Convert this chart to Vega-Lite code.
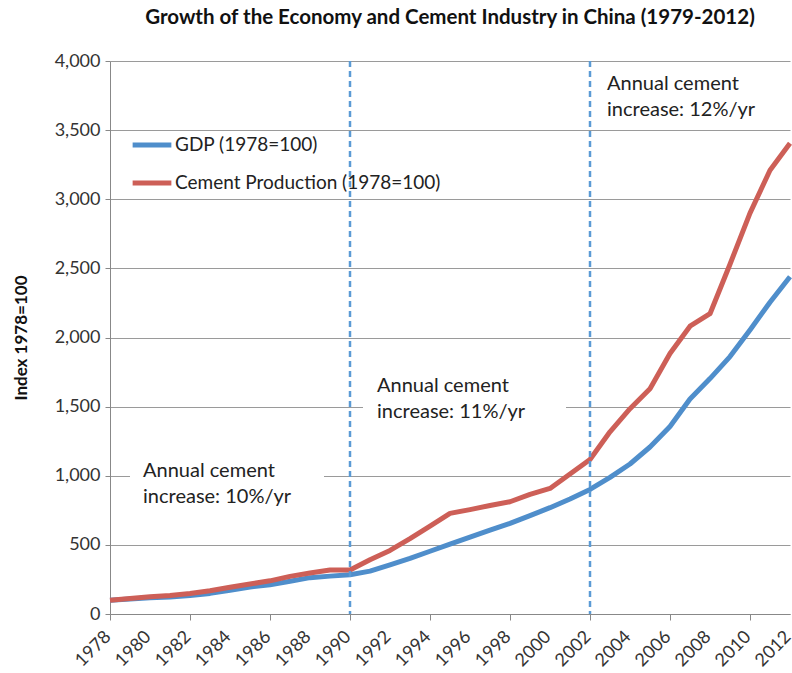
{
  "$schema": "https://vega.github.io/schema/vega-lite/v6.json",
  "autosize": {"type": "none"},
  "padding": {"left": 110, "top": 61, "right": 2, "bottom": 59},
  "width": 680,
  "height": 553,
  "background": "white",
  "title": {
    "text": "Growth of the Economy and Cement Industry in China (1979-2012)",
    "font": "Lato",
    "fontSize": 20.5,
    "fontWeight": "bold",
    "color": "#111111",
    "anchor": "middle",
    "offset": 24
  },
  "config": {
    "view": {"stroke": null},
    "axis": {
      "labelFont": "Lato",
      "labelColor": "#333333",
      "titleFont": "Lato",
      "domainColor": "#888888",
      "tickColor": "#888888",
      "gridColor": "#9a9a9a",
      "gridWidth": 1
    },
    "axisY": {"labelFontSize": 18}
  },
  "datasets": {
    "series": [
      {"year": 1978, "series": "GDP (1978=100)", "value": 100},
      {"year": 1979, "series": "GDP (1978=100)", "value": 108},
      {"year": 1980, "series": "GDP (1978=100)", "value": 117},
      {"year": 1981, "series": "GDP (1978=100)", "value": 123},
      {"year": 1982, "series": "GDP (1978=100)", "value": 134},
      {"year": 1983, "series": "GDP (1978=100)", "value": 149},
      {"year": 1984, "series": "GDP (1978=100)", "value": 171},
      {"year": 1985, "series": "GDP (1978=100)", "value": 195},
      {"year": 1986, "series": "GDP (1978=100)", "value": 212},
      {"year": 1987, "series": "GDP (1978=100)", "value": 237},
      {"year": 1988, "series": "GDP (1978=100)", "value": 263},
      {"year": 1989, "series": "GDP (1978=100)", "value": 274},
      {"year": 1990, "series": "GDP (1978=100)", "value": 284},
      {"year": 1991, "series": "GDP (1978=100)", "value": 310},
      {"year": 1992, "series": "GDP (1978=100)", "value": 355},
      {"year": 1993, "series": "GDP (1978=100)", "value": 402},
      {"year": 1994, "series": "GDP (1978=100)", "value": 454},
      {"year": 1995, "series": "GDP (1978=100)", "value": 505},
      {"year": 1996, "series": "GDP (1978=100)", "value": 556},
      {"year": 1997, "series": "GDP (1978=100)", "value": 606},
      {"year": 1998, "series": "GDP (1978=100)", "value": 656},
      {"year": 1999, "series": "GDP (1978=100)", "value": 712},
      {"year": 2000, "series": "GDP (1978=100)", "value": 769},
      {"year": 2001, "series": "GDP (1978=100)", "value": 832},
      {"year": 2002, "series": "GDP (1978=100)", "value": 901},
      {"year": 2003, "series": "GDP (1978=100)", "value": 988},
      {"year": 2004, "series": "GDP (1978=100)", "value": 1085},
      {"year": 2005, "series": "GDP (1978=100)", "value": 1208},
      {"year": 2006, "series": "GDP (1978=100)", "value": 1356},
      {"year": 2007, "series": "GDP (1978=100)", "value": 1555},
      {"year": 2008, "series": "GDP (1978=100)", "value": 1703},
      {"year": 2009, "series": "GDP (1978=100)", "value": 1862},
      {"year": 2010, "series": "GDP (1978=100)", "value": 2055},
      {"year": 2011, "series": "GDP (1978=100)", "value": 2255},
      {"year": 2012, "series": "GDP (1978=100)", "value": 2440},
      {"year": 1978, "series": "Cement Production (1978=100)", "value": 100},
      {"year": 1979, "series": "Cement Production (1978=100)", "value": 112},
      {"year": 1980, "series": "Cement Production (1978=100)", "value": 125},
      {"year": 1981, "series": "Cement Production (1978=100)", "value": 134},
      {"year": 1982, "series": "Cement Production (1978=100)", "value": 148},
      {"year": 1983, "series": "Cement Production (1978=100)", "value": 168},
      {"year": 1984, "series": "Cement Production (1978=100)", "value": 193},
      {"year": 1985, "series": "Cement Production (1978=100)", "value": 217},
      {"year": 1986, "series": "Cement Production (1978=100)", "value": 240},
      {"year": 1987, "series": "Cement Production (1978=100)", "value": 272},
      {"year": 1988, "series": "Cement Production (1978=100)", "value": 296},
      {"year": 1989, "series": "Cement Production (1978=100)", "value": 318},
      {"year": 1990, "series": "Cement Production (1978=100)", "value": 318},
      {"year": 1991, "series": "Cement Production (1978=100)", "value": 392},
      {"year": 1992, "series": "Cement Production (1978=100)", "value": 460},
      {"year": 1993, "series": "Cement Production (1978=100)", "value": 545},
      {"year": 1994, "series": "Cement Production (1978=100)", "value": 635},
      {"year": 1995, "series": "Cement Production (1978=100)", "value": 728},
      {"year": 1996, "series": "Cement Production (1978=100)", "value": 755},
      {"year": 1997, "series": "Cement Production (1978=100)", "value": 785},
      {"year": 1998, "series": "Cement Production (1978=100)", "value": 812},
      {"year": 1999, "series": "Cement Production (1978=100)", "value": 865},
      {"year": 2000, "series": "Cement Production (1978=100)", "value": 908},
      {"year": 2001, "series": "Cement Production (1978=100)", "value": 1013},
      {"year": 2002, "series": "Cement Production (1978=100)", "value": 1118},
      {"year": 2003, "series": "Cement Production (1978=100)", "value": 1318},
      {"year": 2004, "series": "Cement Production (1978=100)", "value": 1485},
      {"year": 2005, "series": "Cement Production (1978=100)", "value": 1630},
      {"year": 2006, "series": "Cement Production (1978=100)", "value": 1885},
      {"year": 2007, "series": "Cement Production (1978=100)", "value": 2082},
      {"year": 2008, "series": "Cement Production (1978=100)", "value": 2172},
      {"year": 2009, "series": "Cement Production (1978=100)", "value": 2530},
      {"year": 2010, "series": "Cement Production (1978=100)", "value": 2900},
      {"year": 2011, "series": "Cement Production (1978=100)", "value": 3210},
      {"year": 2012, "series": "Cement Production (1978=100)", "value": 3405}
    ],
    "boxes": [
      {"x1": 1979.0, "x2": 1988.7, "y1": 790, "y2": 1115},
      {"x1": 1990.65, "x2": 2000.8, "y1": 1360, "y2": 1740}
    ],
    "notes": [
      {"year": 1979.65, "value": 1110, "label": "Annual cement\nincrease: 10%/yr"},
      {"year": 1991.35, "value": 1720, "label": "Annual cement\nincrease: 11%/yr"},
      {"year": 2002.85, "value": 3905, "label": "Annual cement\nincrease: 12%/yr"}
    ],
    "periods": [
      {"year": 1990},
      {"year": 2002}
    ],
    "yearLabels": [
      {"year": 1978}, {"year": 1980}, {"year": 1982}, {"year": 1984}, {"year": 1986},
      {"year": 1988}, {"year": 1990}, {"year": 1992}, {"year": 1994}, {"year": 1996},
      {"year": 1998}, {"year": 2000}, {"year": 2002}, {"year": 2004}, {"year": 2006},
      {"year": 2008}, {"year": 2010}, {"year": 2012}
    ]
  },
  "layer": [
    {
      "data": {"name": "boxes"},
      "mark": {"type": "rect", "fill": "white", "stroke": null},
      "encoding": {
        "x": {
          "field": "x1", "type": "quantitative",
          "scale": {"domain": [1978, 2012], "nice": false, "zero": false},
          "axis": {
            "title": null,
            "values": [1978,1979,1980,1981,1982,1983,1984,1985,1986,1987,1988,1989,1990,1991,1992,1993,1994,1995,1996,1997,1998,1999,2000,2001,2002,2003,2004,2005,2006,2007,2008,2009,2010,2011,2012],
            "labels": false,
            "grid": false,
            "tickSize": 6
          }
        },
        "x2": {"field": "x2"},
        "y": {
          "field": "y1", "type": "quantitative",
          "scale": {"domain": [0, 4000], "nice": false},
          "axis": {
            "title": "Index 1978=100",
            "titleFontSize": 17,
            "titleFontWeight": "bold",
            "titleColor": "#111111",
            "titlePadding": 24,
            "values": [0,500,1000,1500,2000,2500,3000,3500,4000],
            "format": ",d",
            "tickSize": 5,
            "labelPadding": 5,
            "grid": true
          }
        },
        "y2": {"field": "y2"}
      }
    },
    {
      "data": {"name": "series"},
      "mark": {"type": "line", "strokeWidth": 5, "strokeJoin": "round", "strokeCap": "butt"},
      "encoding": {
        "x": {"field": "year", "type": "quantitative"},
        "y": {"field": "value", "type": "quantitative"},
        "color": {
          "field": "series", "type": "nominal",
          "scale": {
            "domain": ["GDP (1978=100)", "Cement Production (1978=100)"],
            "range": ["#4f8ecb", "#cd5f57"]
          },
          "legend": {
            "orient": "none",
            "legendX": 20,
            "legendY": 62,
            "title": null,
            "symbolType": "stroke",
            "symbolStrokeWidth": 5,
            "symbolSize": 1500,
            "labelFont": "Lato",
            "labelFontSize": 19,
            "labelColor": "#222222",
            "labelLimit": 500,
            "labelOffset": 1,
            "rowPadding": 6
          }
        }
      }
    },
    {
      "data": {"name": "periods"},
      "mark": {"type": "rule", "stroke": "#5b9bd5", "strokeWidth": 2.5, "strokeDash": [6, 4]},
      "encoding": {
        "x": {"field": "year", "type": "quantitative"}
      }
    },
    {
      "data": {"name": "notes"},
      "mark": {"type": "text", "align": "left", "baseline": "top", "lineBreak": "\n", "lineHeight": 26, "font": "Lato", "fontSize": 20, "color": "#222222"},
      "encoding": {
        "x": {"field": "year", "type": "quantitative"},
        "y": {"field": "value", "type": "quantitative"},
        "text": {"field": "label"}
      }
    },
    {
      "data": {"name": "yearLabels"},
      "mark": {"type": "text", "align": "right", "baseline": "top", "angle": -45, "xOffset": -8, "yOffset": 14, "font": "Lato", "fontSize": 18, "color": "#333333", "clip": false},
      "encoding": {
        "x": {"field": "year", "type": "quantitative"},
        "y": {"datum": 0, "type": "quantitative"},
        "text": {"field": "year", "type": "quantitative", "format": "d"}
      }
    }
  ]
}
